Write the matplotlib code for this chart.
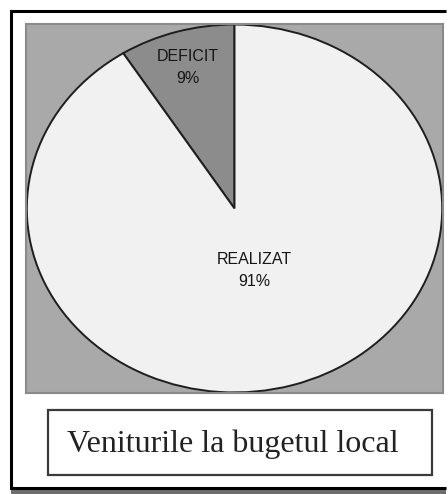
import numpy as np
import matplotlib
matplotlib.use('Agg')
import matplotlib.pyplot as plt
from matplotlib.patches import Rectangle

#------------------------------ data ------------------------------
labels = ['DEFICIT', 'REALIZAT']
shares = [9, 91]
pct_text = ['9%', '91%']
title = 'Veniturile la bugetul local'

wedge_colors = ['#8c8c8c', '#f1f1f1']
label_dist = [0.80, 0.35]

W, H = 448, 494
fig = plt.figure(figsize=(W / 100, H / 100), dpi=100)
fig.patch.set_facecolor('white')

# background axes in pixel coords (y downwards)
bg = fig.add_axes([0, 0, 1, 1])
bg.set_xlim(0, W)
bg.set_ylim(H, 0)
bg.axis('off')

# soft shadow + outer frame (right edge runs off the picture)
bg.add_patch(Rectangle((11, 488), W - 13, H - 488, facecolor='#6e6e6e', edgecolor='none'))
bg.plot([11, W - 2], [11, 11], color='black', lw=2.2, solid_capstyle='butt')
bg.plot([11, 11], [11, 488], color='black', lw=2.2, solid_capstyle='projecting')
bg.plot([11, W - 2], [488, 488], color='black', lw=2.2, solid_capstyle='butt')

# title box
bg.add_patch(Rectangle((48, 410), 384, 65, facecolor='white', edgecolor='#3a3a3a', lw=1.6))
bg.text(233, 444, title, ha='center', va='center', fontsize=23,
        family='Liberation Serif', color='#222222')

#------------------------------ pie -------------------------------
x0, y0, x1, y1 = 26, 24, 443, 393
ax = fig.add_axes([x0 / W, 1 - y1 / H, (x1 - x0) / W, (y1 - y0) / H])
ax.set_facecolor('#a9a9a9')
wedges, _ = ax.pie(shares, colors=wedge_colors, startangle=90, counterclock=True,
                   wedgeprops=dict(edgecolor='#1e1e1e', linewidth=1.4))
ax.set_aspect('auto')
ax.set_xlim(-1.004, 1.004)
ax.set_ylim(-1.003, 1.003)
for s in ax.spines.values():
    s.set_color('#8a8a8a')
    s.set_linewidth(1.5)
ax.set_xticks([])
ax.set_yticks([])
ax.set_frame_on(True)

for w, lab, pct, d in zip(wedges, labels, pct_text, label_dist):
    ang = np.deg2rad((w.theta1 + w.theta2) / 2)
    ax.text(d * np.cos(ang), d * np.sin(ang), lab + '\n' + pct, ha='center', va='center',
            fontsize=11.5, family='Liberation Sans', color='#151515', linespacing=1.6)

fig.savefig('out.png', dpi=100)
